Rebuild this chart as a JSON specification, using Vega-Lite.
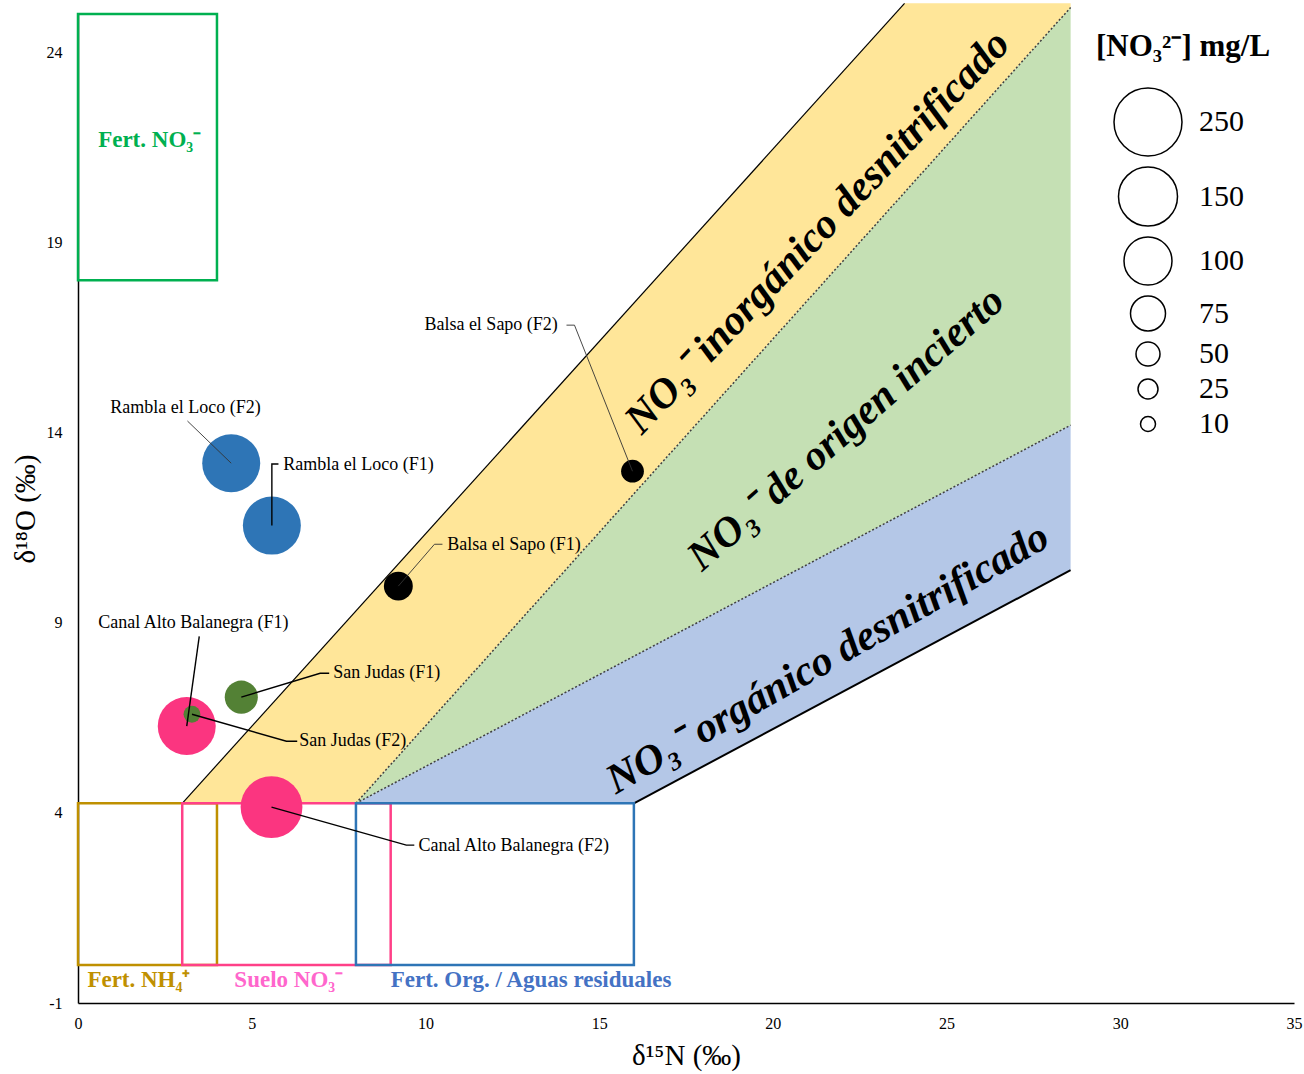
{
  "$schema": "https://vega.github.io/schema/vega-lite/v6.json",
  "autosize": "none",
  "width": 1216,
  "height": 989,
  "padding": {"left": 78, "top": 14, "right": 10, "bottom": 71},
  "background": "white",
  "config": {
    "view": {"stroke": null},
    "font": "Liberation Serif",
    "axis": {"grid": false, "ticks": false, "domainColor": "black", "domainWidth": 1.5, "labelFont": "Liberation Serif", "labelFontSize": 16, "labelColor": "black", "labelFlush": false, "labelExpr": "replace(datum.label, '−', '-')", "titleFont": "Liberation Serif", "titleFontSize": 29, "titleFontWeight": "normal", "titleColor": "black"}
  },
  "datasets": {
    "bands": [
      {"band": "inorg", "x": 3, "ylo": 4.25, "yhi": 4.25},
      {"band": "inorg", "x": 8, "ylo": 4.25, "yhi": 9.31},
      {"band": "inorg", "x": 23.79, "ylo": 20.31, "yhi": 25.28},
      {"band": "inorg", "x": 28.57, "ylo": 25.17, "yhi": 25.28},
      {"band": "incierto", "x": 8, "ylo": 4.25, "yhi": 4.25},
      {"band": "incierto", "x": 28.57, "ylo": 14.19, "yhi": 25.17},
      {"band": "org", "x": 8, "ylo": 4.25, "yhi": 4.25},
      {"band": "org", "x": 16, "ylo": 4.25, "yhi": 8.12},
      {"band": "org", "x": 28.57, "ylo": 10.38, "yhi": 14.19}
    ],
    "edges": [
      {"seg": "upper", "kind": "thin", "x": 3, "y": 4.25},
      {"seg": "upper", "kind": "thin", "x": 23.79, "y": 25.28},
      {"seg": "lower", "kind": "thick", "x": 16, "y": 4.25},
      {"seg": "lower", "kind": "thick", "x": 28.57, "y": 10.38},
      {"seg": "d1", "kind": "dot", "x": 8, "y": 4.25},
      {"seg": "d1", "kind": "dot", "x": 28.57, "y": 25.17},
      {"seg": "d2", "kind": "dot", "x": 8, "y": 4.25},
      {"seg": "d2", "kind": "dot", "x": 28.57, "y": 14.19}
    ],
    "boxes": [
      {"box": "NH4", "x1": 0, "x2": 4, "y1": 0, "y2": 4.25},
      {"box": "Suelo", "x1": 3, "x2": 9, "y1": 0, "y2": 4.25},
      {"box": "Org", "x1": 8, "x2": 16, "y1": 0, "y2": 4.25},
      {"box": "NO3", "x1": 0, "x2": 4, "y1": 18, "y2": 25}
    ],
    "samples": [
      {"site": "Rambla", "name": "Rambla el Loco (F2)", "d15N": 4.41, "d18O": 13.19, "conc": 145},
      {"site": "Rambla", "name": "Rambla el Loco (F1)", "d15N": 5.58, "d18O": 11.55, "conc": 145},
      {"site": "Balsa", "name": "Balsa el Sapo (F2)", "d15N": 15.96, "d18O": 12.98, "conc": 42},
      {"site": "Balsa", "name": "Balsa el Sapo (F1)", "d15N": 9.22, "d18O": 9.96, "conc": 60},
      {"site": "Canal", "name": "Canal Alto Balanegra (F1)", "d15N": 3.13, "d18O": 6.28, "conc": 145},
      {"site": "Canal", "name": "Canal Alto Balanegra (F2)", "d15N": 5.57, "d18O": 4.15, "conc": 180},
      {"site": "SanJudas", "name": "San Judas (F1)", "d15N": 4.70, "d18O": 7.04, "conc": 70},
      {"site": "SanJudas", "name": "San Judas (F2)", "d15N": 3.28, "d18O": 6.59, "conc": 15}
    ],
    "leaders": [
      {"lab": "RF2", "w": "thin", "seq": 1, "x": 3.15, "y": 14.30},
      {"lab": "RF2", "w": "thin", "seq": 2, "x": 4.41, "y": 13.19},
      {"lab": "RF1", "w": "norm", "seq": 1, "x": 5.77, "y": 13.17},
      {"lab": "RF1", "w": "norm", "seq": 2, "x": 5.58, "y": 13.17},
      {"lab": "RF1", "w": "norm", "seq": 3, "x": 5.58, "y": 11.55},
      {"lab": "BF2", "w": "thin", "seq": 1, "x": 14.06, "y": 16.82},
      {"lab": "BF2", "w": "thin", "seq": 2, "x": 14.29, "y": 16.82},
      {"lab": "BF2", "w": "thin", "seq": 3, "x": 15.96, "y": 12.98},
      {"lab": "BF1", "w": "thin", "seq": 1, "x": 10.49, "y": 11.06},
      {"lab": "BF1", "w": "thin", "seq": 2, "x": 10.26, "y": 11.06},
      {"lab": "BF1", "w": "thin", "seq": 3, "x": 9.22, "y": 9.96},
      {"lab": "CF1", "w": "norm", "seq": 1, "x": 3.49, "y": 8.64},
      {"lab": "CF1", "w": "norm", "seq": 2, "x": 3.13, "y": 6.28},
      {"lab": "SF1", "w": "norm", "seq": 1, "x": 7.23, "y": 7.67},
      {"lab": "SF1", "w": "norm", "seq": 2, "x": 6.97, "y": 7.67},
      {"lab": "SF1", "w": "norm", "seq": 3, "x": 4.70, "y": 7.04},
      {"lab": "SF2", "w": "norm", "seq": 1, "x": 6.31, "y": 5.88},
      {"lab": "SF2", "w": "norm", "seq": 2, "x": 6.00, "y": 5.88},
      {"lab": "SF2", "w": "norm", "seq": 3, "x": 3.28, "y": 6.59},
      {"lab": "CF2", "w": "norm", "seq": 1, "x": 9.68, "y": 3.15},
      {"lab": "CF2", "w": "norm", "seq": 2, "x": 9.45, "y": 3.15},
      {"lab": "CF2", "w": "norm", "seq": 3, "x": 5.57, "y": 4.15}
    ],
    "labels": [
      {"text": "Rambla el Loco (F2)", "x": 0.93, "y": 14.64},
      {"text": "Rambla el Loco  (F1)", "x": 5.91, "y": 13.14},
      {"text": "Balsa el Sapo (F2)", "x": 9.97, "y": 16.82},
      {"text": "Balsa el Sapo (F1)", "x": 10.63, "y": 11.04},
      {"text": "Canal Alto Balanegra  (F1)", "x": 0.58, "y": 8.98},
      {"text": "San Judas  (F1)", "x": 7.35, "y": 7.67},
      {"text": "San Judas  (F2)", "x": 6.37, "y": 5.88},
      {"text": "Canal Alto Balanegra (F2)", "x": 9.80, "y": 3.12}
    ],
    "boxlabels": [
      {"grp": "tNH4", "text": "Fert. NH₄⁺", "x": 0.27, "y": -0.4},
      {"grp": "tSuelo", "text": "Suelo NO₃⁻", "x": 4.5, "y": -0.4},
      {"grp": "tOrg", "text": "Fert. Org. / Aguas residuales", "x": 9.0, "y": -0.4},
      {"grp": "tNO3", "text": "Fert. NO₃⁻", "x": 0.58, "y": 21.68}
    ],
    "regions": [
      {"r": "a", "text": "NO₃⁻ inorgánico desnitrificado", "x": 21.28, "y": 19.27},
      {"r": "b", "text": "NO₃⁻ de origen incierto", "x": 22.1, "y": 14.1},
      {"r": "c", "text": "NO₃⁻ orgánico desnitrificado", "x": 21.57, "y": 8.06}
    ]
  },
  "encoding": {
    "x": {"type": "quantitative", "scale": {"domain": [0, 35], "nice": false, "zero": false}, "axis": {"title": "δ¹⁵N (‰)", "values": [0, 5, 10, 15, 20, 25, 30, 35], "labelPadding": 12, "titlePadding": 10}},
    "y": {"type": "quantitative", "scale": {"domain": [-1, 25], "nice": false, "zero": false}, "axis": {"title": "δ¹⁸O (‰)", "values": [-1, 4, 9, 14, 19, 24], "labelPadding": 16, "titlePadding": 6}}
  },
  "layer": [
    {
      "data": {"name": "bands"},
      "mark": {"type": "area", "opacity": 1, "interpolate": "linear"},
      "encoding": {
        "x": {"field": "x", "type": "quantitative"},
        "y": {"field": "ylo", "type": "quantitative", "stack": null},
        "y2": {"field": "yhi"},
        "color": {"field": "band", "type": "nominal", "legend": null,
          "scale": {"domain": ["inorg", "incierto", "org", "NH4", "Suelo", "Org", "NO3", "Rambla", "Balsa", "Canal", "SanJudas", "tNH4", "tSuelo", "tOrg", "tNO3"],
                    "range": ["#FFE699", "#C5E0B4", "#B4C7E7", "#BF9000", "#FF4088", "#2E75B6", "#00B050", "#2E75B6", "#000000", "#FB3580", "#538135", "#BF9000", "#FF66CC", "#4472C4", "#00B050"]}}
      }
    },
    {
      "data": {"name": "edges"},
      "transform": [{"filter": "datum.kind == 'dot'"}],
      "mark": {"type": "line", "color": "#404040", "strokeWidth": 1.5, "strokeDash": [2, 2]},
      "encoding": {
        "x": {"field": "x", "type": "quantitative"},
        "y": {"field": "y", "type": "quantitative"},
        "detail": {"field": "seg"}
      }
    },
    {
      "data": {"name": "edges"},
      "transform": [{"filter": "datum.kind == 'thin'"}],
      "mark": {"type": "line", "color": "black", "strokeWidth": 1.2},
      "encoding": {
        "x": {"field": "x", "type": "quantitative"},
        "y": {"field": "y", "type": "quantitative"},
        "detail": {"field": "seg"}
      }
    },
    {
      "data": {"name": "edges"},
      "transform": [{"filter": "datum.kind == 'thick'"}],
      "mark": {"type": "line", "color": "black", "strokeWidth": 2},
      "encoding": {
        "x": {"field": "x", "type": "quantitative"},
        "y": {"field": "y", "type": "quantitative"},
        "detail": {"field": "seg"}
      }
    },
    {
      "data": {"name": "boxes"},
      "mark": {"type": "rect", "filled": false, "strokeWidth": 2.5},
      "encoding": {
        "x": {"field": "x1", "type": "quantitative"},
        "x2": {"field": "x2"},
        "y": {"field": "y1", "type": "quantitative"},
        "y2": {"field": "y2"},
        "color": {"field": "box", "type": "nominal", "legend": null}
      }
    },
    {
      "data": {"name": "samples"},
      "mark": {"type": "point", "filled": true, "opacity": 1, "shape": "circle"},
      "encoding": {
        "x": {"field": "d15N", "type": "quantitative"},
        "y": {"field": "d18O", "type": "quantitative"},
        "color": {"field": "site", "type": "nominal", "legend": null},
        "order": {"field": "conc", "sort": "descending"},
        "size": {"field": "conc", "type": "quantitative",
          "scale": {"type": "linear", "zero": false, "domain": [10, 25, 50, 75, 100, 150, 250], "range": [225, 400, 576, 1225, 2304, 3481, 4624]},
          "legend": {"orient": "none", "legendX": 1018, "legendY": 18, "values": [250, 150, 100, 75, 50, 25, 10],
            "title": "[NO₃²⁻] mg/L", "titleFont": "Liberation Serif", "titleFontSize": 31, "titleFontWeight": "bold", "titleColor": "black", "titleLimit": 400, "titlePadding": 24,
            "labelFont": "Liberation Serif", "labelFontSize": 30, "labelColor": "black", "labelOffset": 16,
            "symbolType": "circle", "symbolFillColor": "white", "symbolStrokeColor": "black", "symbolStrokeWidth": 1.5, "symbolOpacity": 1, "symbolOffset": 17, "rowPadding": 5, "padding": 0}}
      }
    },
    {
      "data": {"name": "leaders"},
      "transform": [{"filter": "datum.w == 'norm'"}],
      "mark": {"type": "line", "color": "black", "strokeWidth": 1.4},
      "encoding": {
        "x": {"field": "x", "type": "quantitative"},
        "y": {"field": "y", "type": "quantitative"},
        "detail": {"field": "lab"},
        "order": {"field": "seq"}
      }
    },
    {
      "data": {"name": "leaders"},
      "transform": [{"filter": "datum.w == 'thin'"}],
      "mark": {"type": "line", "color": "#333333", "strokeWidth": 0.9},
      "encoding": {
        "x": {"field": "x", "type": "quantitative"},
        "y": {"field": "y", "type": "quantitative"},
        "detail": {"field": "lab"},
        "order": {"field": "seq"}
      }
    },
    {
      "data": {"name": "labels"},
      "mark": {"type": "text", "align": "left", "baseline": "middle", "font": "Liberation Serif", "fontSize": 18, "color": "black"},
      "encoding": {
        "x": {"field": "x", "type": "quantitative"},
        "y": {"field": "y", "type": "quantitative"},
        "text": {"field": "text"}
      }
    },
    {
      "data": {"name": "boxlabels"},
      "mark": {"type": "text", "align": "left", "baseline": "middle", "font": "Liberation Serif", "fontSize": 23, "fontWeight": "bold"},
      "encoding": {
        "x": {"field": "x", "type": "quantitative"},
        "y": {"field": "y", "type": "quantitative"},
        "text": {"field": "text"},
        "color": {"field": "grp", "type": "nominal", "legend": null}
      }
    },
    {
      "data": {"name": "regions"},
      "transform": [{"filter": "datum.r == 'a'"}],
      "mark": {"type": "text", "align": "center", "baseline": "middle", "font": "Liberation Serif", "fontSize": 42, "fontWeight": "bold", "fontStyle": "italic", "color": "black", "angle": -46.5},
      "encoding": {
        "x": {"field": "x", "type": "quantitative"},
        "y": {"field": "y", "type": "quantitative"},
        "text": {"field": "text"}
      }
    },
    {
      "data": {"name": "regions"},
      "transform": [{"filter": "datum.r == 'b'"}],
      "mark": {"type": "text", "align": "center", "baseline": "middle", "font": "Liberation Serif", "fontSize": 42, "fontWeight": "bold", "fontStyle": "italic", "color": "black", "angle": -41.3},
      "encoding": {
        "x": {"field": "x", "type": "quantitative"},
        "y": {"field": "y", "type": "quantitative"},
        "text": {"field": "text"}
      }
    },
    {
      "data": {"name": "regions"},
      "transform": [{"filter": "datum.r == 'c'"}],
      "mark": {"type": "text", "align": "center", "baseline": "middle", "font": "Liberation Serif", "fontSize": 42, "fontWeight": "bold", "fontStyle": "italic", "color": "black", "angle": -29.8},
      "encoding": {
        "x": {"field": "x", "type": "quantitative"},
        "y": {"field": "y", "type": "quantitative"},
        "text": {"field": "text"}
      }
    }
  ]
}
